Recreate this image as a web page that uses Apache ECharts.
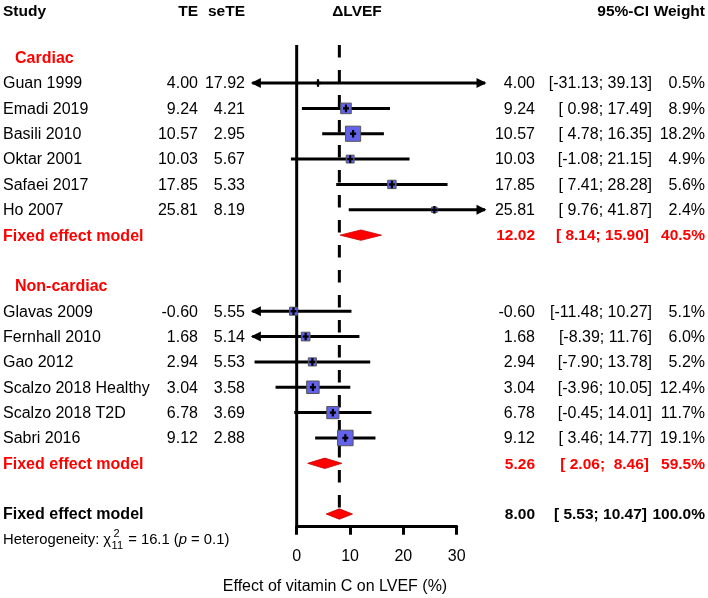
<!DOCTYPE html>
<html><head><meta charset="utf-8">
<script src="https://cdn.jsdelivr.net/npm/echarts@6/dist/echarts.min.js"></script>
<style>html,body{margin:0;padding:0;background:#fff}#c{width:708px;height:598px}</style>
</head><body><div id="c"></div>
<script>
// ---------------- data ----------------
const cardiacStudies = ['Guan 1999','Emadi 2019','Basili 2010','Oktar 2001','Safaei 2017','Ho 2007'];
const cardiacTE     = [4.00, 9.24, 10.57, 10.03, 17.85, 25.81];
const cardiacSeTE   = [17.92, 4.21, 2.95, 5.67, 5.33, 8.19];
const cardiacLower  = [-31.13, 0.98, 4.78, -1.08, 7.41, 9.76];
const cardiacUpper  = [39.13, 17.49, 16.35, 21.15, 28.28, 41.87];
const cardiacWeight = [0.5, 8.9, 18.2, 4.9, 5.6, 2.4];

const noncardiacStudies = ['Glavas 2009','Fernhall 2010','Gao 2012','Scalzo 2018 Healthy','Scalzo 2018 T2D','Sabri 2016'];
const noncardiacTE     = [-0.60, 1.68, 2.94, 3.04, 6.78, 9.12];
const noncardiacSeTE   = [5.55, 5.14, 5.53, 3.58, 3.69, 2.88];
const noncardiacLower  = [-11.48, -8.39, -7.90, -3.96, -0.45, 3.46];
const noncardiacUpper  = [10.27, 11.76, 13.78, 10.05, 14.01, 14.77];
const noncardiacWeight = [5.1, 6.0, 5.2, 12.4, 11.7, 19.1];

const subgroupNames = ['Cardiac', 'Non-cardiac'];
const pooledLabels  = ['Fixed effect model', 'Fixed effect model', 'Fixed effect model'];
const pooledTE      = [12.02, 5.26, 8.00];
const pooledLower   = [8.14, 2.06, 5.53];
const pooledUpper   = [15.90, 8.46, 10.47];
const pooledWeight  = [40.5, 59.5, 100.0];

const headerLabels = ['Study', 'TE', 'seTE', '\u0394LVEF', '95%-CI', 'Weight'];
const xTickValues = [0, 10, 20, 30];
const xAxisTitle = 'Effect of vitamin C on LVEF (%)';
const heteroChi2 = 16.1, heteroDf = 11, heteroP = 0.1;

// ---------------- layout ----------------
const X_MIN = -8.3, X_MAX = 35.3;
const FONT = '"Liberation Sans", Arial, Helvetica, sans-serif';
const COL = {study: 3, sub: 15, te: 198, se: 245, lvef: 357, est: 535, ci: 652, cih: 649, w: 705};
const RED = '#ff0000';
const LW = 3;

const fmt = v => v.toFixed(2);
const ciStr = (lo, hi) => '[' + fmt(lo).padStart(5, ' ') + '; ' + fmt(hi).padStart(5, ' ') + ']';

const studyData = [], pooledData = [], textRows = [];
textRows.push({row: -0.85, cells: [
  {t: headerLabels[0], x: COL.study, a: 'left', b: true, s: 15.5},
  {t: headerLabels[1], x: COL.te, a: 'right', b: true, s: 15.5},
  {t: headerLabels[2], x: COL.se, a: 'right', b: true, s: 15.5},
  {t: headerLabels[3], x: COL.lvef, a: 'center', b: true, s: 15.5},
  {t: headerLabels[4], x: COL.cih, a: 'right', b: true, s: 15.5},
  {t: headerLabels[5], x: COL.w, a: 'right', b: true, s: 15.5}
]});

const groups = [
  [cardiacStudies, cardiacTE, cardiacSeTE, cardiacLower, cardiacUpper, cardiacWeight],
  [noncardiacStudies, noncardiacTE, noncardiacSeTE, noncardiacLower, noncardiacUpper, noncardiacWeight]
];
let row = 1;
groups.forEach((g, gi) => {
  textRows.push({row: row, cells: [{t: subgroupNames[gi], x: COL.sub, a: 'left', b: true, c: RED}]});
  row++;
  g[0].forEach((name, i) => {
    studyData.push([g[1][i], row, g[3][i], g[4][i], g[5][i]]);
    textRows.push({row: row, cells: [
      {t: name, x: COL.study, a: 'left'},
      {t: fmt(g[1][i]), x: COL.te, a: 'right'},
      {t: fmt(g[2][i]), x: COL.se, a: 'right'},
      {t: fmt(g[1][i]), x: COL.est, a: 'right'},
      {t: ciStr(g[3][i], g[4][i]), x: COL.ci, a: 'right'},
      {t: g[5][i].toFixed(1) + '%', x: COL.w, a: 'right'}
    ]});
    row++;
  });
  pooledData.push([pooledTE[gi], row, pooledLower[gi], pooledUpper[gi]]);
  textRows.push({row: row, cells: [
    {t: pooledLabels[gi], x: COL.study, a: 'left', b: true, c: RED},
    {t: fmt(pooledTE[gi]), x: COL.est, a: 'right', b: true, c: RED, s: 15.5},
    {t: ciStr(pooledLower[gi], pooledUpper[gi]), x: COL.cih, a: 'right', b: true, c: RED, s: 15.5},
    {t: pooledWeight[gi].toFixed(1) + '%', x: COL.w, a: 'right', b: true, c: RED, s: 15.5}
  ]});
  row += 2;
});
// overall
pooledData.push([pooledTE[2], row, pooledLower[2], pooledUpper[2]]);
textRows.push({row: row, cells: [
  {t: pooledLabels[2], x: COL.study, a: 'left', b: true},
  {t: fmt(pooledTE[2]), x: COL.est, a: 'right', b: true, s: 15.5},
  {t: ciStr(pooledLower[2], pooledUpper[2]), x: COL.cih - 2, a: 'right', b: true, s: 15.5},
  {t: pooledWeight[2].toFixed(1) + '%', x: COL.w, a: 'right', b: true, s: 15.5}
]});
const overallRow = row;
const heteroRow = row + 1;

// measure helper
const mctx = document.createElement('canvas').getContext('2d');
function tw(text, size, style) { mctx.font = (style || '') + ' ' + size + 'px ' + FONT; return mctx.measureText(text).width; }

const chart = echarts.init(document.getElementById('c'), null, {renderer: 'canvas'});

function textEl(cell, y) {
  return {type: 'text', style: {
    text: cell.t, x: cell.x, y: y,
    fill: cell.c || '#000',
    fontSize: cell.s || 16, fontWeight: cell.b ? 'bold' : 'normal', fontFamily: FONT,
    align: cell.a, verticalAlign: 'middle'
  }};
}

const option = {
  animation: false,
  backgroundColor: '#fff',
  grid: [
    {left: 252.4, width: 232.6, top: 45, height: 481.7, containLabel: false},
    {left: 296.7, width: 160, top: 45, height: 481.7, containLabel: false}
  ],
  xAxis: [
    {gridIndex: 0, type: 'value', min: X_MIN, max: X_MAX, show: false},
    {gridIndex: 1, type: 'value', min: xTickValues[0], max: xTickValues[xTickValues.length - 1],
     interval: xTickValues[1] - xTickValues[0], position: 'bottom',
     axisLine: {show: true, lineStyle: {color: '#000', width: LW}},
     axisTick: {show: true, length: 8, inside: false, lineStyle: {color: '#000', width: LW}},
     axisLabel: {show: true, color: '#000', fontSize: 16, fontFamily: FONT, margin: 22},
     splitLine: {show: false}}
  ],
  yAxis: [
    {gridIndex: 0, type: 'value', min: 0.5, max: 19.5, inverse: true, show: false},
    {gridIndex: 1, type: 'value', min: 0, max: 1, show: false}
  ],
  graphic: [
    {type: 'text', left: 335 - tw(xAxisTitle, 16) / 2, top: 579, style: {text: xAxisTitle, fill: '#000', fontSize: 16, fontFamily: FONT}}
  ],
  series: [
    {type: 'custom', xAxisIndex: 0, yAxisIndex: 0, clip: false, silent: true,
     data: [[0, 0.5, 19.5, 0], [pooledTE[2], 0.5, overallRow, 1]],
     renderItem: (params, api) => {
       const p1 = api.coord([api.value(0), api.value(1)]);
       const p2 = api.coord([api.value(0), api.value(2)]);
       const dashed = api.value(3) === 1;
       return {type: 'line', shape: {x1: p1[0], y1: p1[1], x2: p2[0], y2: p2[1]},
               style: {stroke: '#000', lineWidth: LW, lineDash: dashed ? [12.5, 12.5] : null}};
     }},
    {type: 'custom', xAxisIndex: 0, yAxisIndex: 0, clip: false, silent: true, z: 3,
     data: studyData,
     renderItem: (params, api) => {
       const te = api.value(0), r = api.value(1), lo = api.value(2), hi = api.value(3), w = api.value(4);
       const pL = api.coord([Math.max(lo, X_MIN), r]);
       const pH = api.coord([Math.min(hi, X_MAX), r]);
       const pc = api.coord([te, r]);
       const ch = [{type: 'line', shape: {x1: pL[0], y1: pL[1], x2: pH[0], y2: pH[1]}, style: {stroke: '#000', lineWidth: LW}}];
       if (lo < X_MIN) ch.push({type: 'polygon', shape: {points: [[pL[0] - 1.5, pL[1]], [pL[0] + 8.5, pL[1] - 5], [pL[0] + 8.5, pL[1] + 5]]}, style: {fill: '#000'}});
       if (hi > X_MAX) ch.push({type: 'polygon', shape: {points: [[pH[0] + 1.5, pH[1]], [pH[0] - 8.5, pH[1] - 5], [pH[0] - 8.5, pH[1] + 5]]}, style: {fill: '#000'}});
       const s = 3.55 * Math.sqrt(w);
       ch.push({type: 'rect', shape: {x: pc[0] - s / 2, y: pc[1] - s / 2, width: s, height: s}, style: {fill: '#6262ec', stroke: '#555', lineWidth: 1}});
       ch.push({type: 'line', shape: {x1: pc[0] - 3, y1: pc[1], x2: pc[0] + 3, y2: pc[1]}, style: {stroke: '#000', lineWidth: 2.4}});
       ch.push({type: 'line', shape: {x1: pc[0], y1: pc[1] - 3.8, x2: pc[0], y2: pc[1] + 3.8}, style: {stroke: '#000', lineWidth: 2.2}});
       return {type: 'group', children: ch};
     }},
    {type: 'custom', xAxisIndex: 0, yAxisIndex: 0, clip: false, silent: true, z: 4,
     data: pooledData,
     renderItem: (params, api) => {
       const r = api.value(1);
       const pc = api.coord([api.value(0), r]);
       const pL = api.coord([api.value(2), r]);
       const pH = api.coord([api.value(3), r]);
       const h = 5.2;
       return {type: 'polygon', shape: {points: [[pL[0], pc[1]], [pc[0], pc[1] - h], [pH[0], pc[1]], [pc[0], pc[1] + h]]},
               style: {fill: RED, stroke: '#c00000', lineWidth: 0.8}};
     }},
    {type: 'custom', xAxisIndex: 0, yAxisIndex: 0, clip: false, silent: true, z: 5,
     data: textRows.map(t => [0, t.row]),
     renderItem: (params, api) => {
       const y = api.coord([0, api.value(1)])[1] + 1;
       return {type: 'group', children: textRows[params.dataIndex].cells.map(c => textEl(c, y))};
     }},
    {type: 'custom', xAxisIndex: 0, yAxisIndex: 0, clip: false, silent: true, z: 5,
     data: [[0, heteroRow]],
     renderItem: (params, api) => {
       const y = api.coord([0, api.value(1)])[1] + 1;
       const fs = 14.8, sm = 11;
       let x = COL.study;
       const parts = [];
       const mk = (text, xx, yy, size, style) => ({type: 'text', style: {text: text, x: xx, y: yy, fill: '#000', fontSize: size, fontStyle: style || 'normal', fontFamily: FONT, align: 'left', verticalAlign: 'middle'}});
       const t1 = 'Heterogeneity: \u03c7';
       parts.push(mk(t1, x, y, fs));
       x += tw(t1, fs) + 0.5;
       parts.push(mk('2', x + 2, y - 6.5, sm));
       parts.push(mk(String(heteroDf), x, y + 5.5, sm));
       x += tw(String(heteroDf), sm) + 1;
       const t2 = ' = ' + heteroChi2.toFixed(1) + ' (';
       parts.push(mk(t2, x, y, fs));
       x += tw(t2, fs);
       parts.push(mk('p', x, y, fs, 'italic'));
       x += tw('p', fs, 'italic');
       parts.push(mk(' = ' + heteroP.toFixed(1) + ')', x, y, fs));
       return {type: 'group', children: parts};
     }}
  ]
};
chart.setOption(option);
</script>
</body></html>
